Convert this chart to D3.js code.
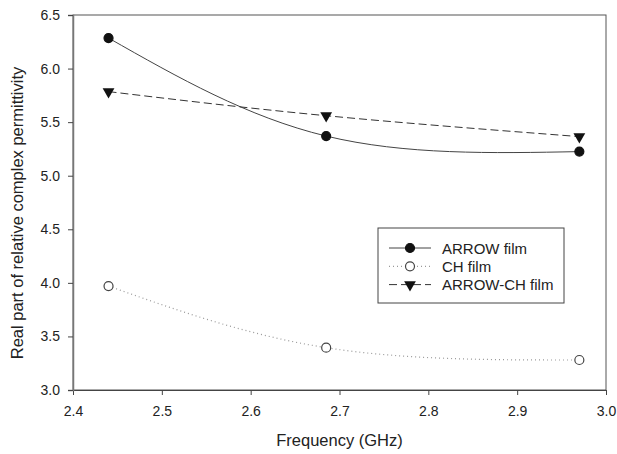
<!DOCTYPE html>
<html lang='en'>
<head>
  <meta charset='utf-8'/>
  <title>Real part of relative complex permittivity</title>
  <script src='https://d3js.org/d3.v7.min.js'></script>
  <style>
    body{margin:0;background:#ffffff;}
    svg{display:block;font-family:'Liberation Sans',Arial,sans-serif;}
  </style>
</head>
<body>
<svg id='chart'></svg>
<script>
// Data
const freq       = [2.44, 2.685, 2.97];
const arrowFilm  = [6.285, 5.37, 5.225];
const chFilm     = [3.97, 3.395, 3.28];
const arrowChFilm = [5.785, 5.56, 5.365];
const xTicks = [2.4, 2.5, 2.6, 2.7, 2.8, 2.9, 3.0];
const yTicks = [3.0, 3.5, 4.0, 4.5, 5.0, 5.5, 6.0, 6.5];

const W = 617, H = 454;
const margin = {top: 15, right: 11, bottom: 64, left: 73};
const width  = W - margin.left - margin.right;
const height = H - margin.top - margin.bottom;

const svg = d3.select('#chart').attr('width', W).attr('height', H);
const g = svg.append('g').attr('transform', `translate(${margin.left},${margin.top})`);

const x = d3.scaleLinear().domain([2.4, 3.0]).range([0, width]);
const y = d3.scaleLinear().domain([3.0, 6.5]).range([height, 0]);

// frame
g.append('rect')
  .attr('width', width).attr('height', height)
  .attr('fill', 'none').attr('stroke', '#555').attr('stroke-width', 1);

// axes
const xAxis = g.append('g')
  .attr('transform', `translate(0,${height})`)
  .call(d3.axisBottom(x).tickValues(xTicks).tickFormat(d3.format('.1f')).tickSize(5).tickPadding(11));
const yAxis = g.append('g')
  .call(d3.axisLeft(y).tickValues(yTicks).tickFormat(d3.format('.1f')).tickSize(5).tickPadding(8));

[xAxis, yAxis].forEach(a => {
  a.select('.domain').attr('stroke', '#444');
  a.selectAll('.tick line').attr('stroke', '#444');
  a.selectAll('.tick text').attr('fill', '#222').style('font-size', '14px');
});
yAxis.select('.domain').attr('stroke', '#777').attr('stroke-width', 1.5);

// axis titles
svg.append('text')
  .attr('x', margin.left + width / 2).attr('y', 446)
  .attr('text-anchor', 'middle').attr('fill', '#222')
  .style('font-size', '16.5px')
  .text('Frequency (GHz)');

svg.append('text')
  .attr('transform', 'translate(23,213) rotate(-90)')
  .attr('text-anchor', 'middle').attr('fill', '#222')
  .style('font-size', '16.5px')
  .text('Real part of relative complex permittivity');

// series
const series = [
  {name: 'ARROW film',    values: arrowFilm,   stroke: '#444', dash: null,  width: 1,   marker: 'filled'},
  {name: 'CH film',       values: chFilm,      stroke: '#999', dash: '1,3', width: 1.2, marker: 'open'},
  {name: 'ARROW-CH film', values: arrowChFilm, stroke: '#333', dash: '8,4', width: 1,   marker: 'tri'}
];

const line = d3.line().x(d => x(d[0])).y(d => y(d[1])).curve(d3.curveNatural);
const tri = d3.symbol().type(d3.symbolTriangle).size(60);

function drawMarker(sel, type, cx, cy) {
  if (type === 'tri') {
    sel.append('path').attr('d', tri())
      .attr('transform', `translate(${cx},${cy}) rotate(180)`)
      .attr('fill', '#111');
  } else {
    sel.append('circle').attr('cx', cx).attr('cy', cy).attr('r', 4.5)
      .attr('fill', type === 'filled' ? '#111' : '#fff')
      .attr('stroke', type === 'filled' ? '#111' : '#444')
      .attr('stroke-width', 1.2);
  }
}

series.forEach(s => {
  const pts = freq.map((f, i) => [f, s.values[i]]);
  g.append('path').datum(pts)
    .attr('d', line)
    .attr('fill', 'none')
    .attr('stroke', s.stroke)
    .attr('stroke-width', s.width)
    .attr('stroke-dasharray', s.dash);
  pts.forEach(p => drawMarker(g, s.marker, x(p[0]), y(p[1])));
});

// legend
const lg = svg.append('g').attr('transform', 'translate(378,228)');
lg.append('rect').attr('width', 186).attr('height', 75)
  .attr('fill', '#fff').attr('stroke', '#444').attr('stroke-width', 1);
series.forEach((s, i) => {
  const ly = 20 + i * 18.3;
  lg.append('line').attr('x1', 11).attr('x2', 53).attr('y1', ly).attr('y2', ly)
    .attr('stroke', s.stroke).attr('stroke-width', s.width).attr('stroke-dasharray', s.dash);
  drawMarker(lg, s.marker, 32, ly);
  lg.append('text').attr('x', 64).attr('y', ly + 5.5)
    .attr('fill', '#222').style('font-size', '15px').text(s.name);
});
</script>
</body>
</html>
